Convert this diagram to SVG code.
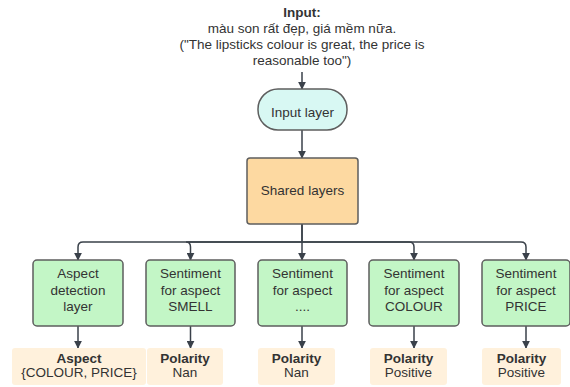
<svg xmlns="http://www.w3.org/2000/svg" width="570" height="387" viewBox="0 0 570 387">
  <defs>
    <marker id="arrow" viewBox="0 0 10 10" refX="9" refY="5" markerWidth="8" markerHeight="8" markerUnits="userSpaceOnUse" orient="auto">
      <path d="M0 0 L10 5 L0 10 Z" fill="#3a414a"/>
    </marker>
    <style>
      text { font-family: "Liberation Sans", Arial, sans-serif; font-size: 13.5px; fill: #333333; text-anchor: middle; }
      .b { font-weight: bold; }
      .conn { fill: none; stroke: #3a414a; stroke-width: 1.5; marker-end: url(#arrow); }
      .layer { stroke: #5e5e5e; stroke-width: 1.5; }
      .green { fill: #c3f6c6; }
      .out { fill: #fff1dc; }
    </style>
  </defs>

  <!-- input sentence -->
  <g id="input-text">
    <text class="b" x="302" y="17">Input:</text>
    <text x="302" y="33">màu son rất đẹp, giá mềm nữa.</text>
    <text x="302" y="49">("The lipsticks colour is great, the price is</text>
    <text x="302" y="65">reasonable too")</text>
  </g>

  <!-- connectors -->
  <g id="connectors">
    <path class="conn" d="M302 72 V89"/>
    <path class="conn" d="M302 130 V158"/>
    <path class="conn" d="M302 224 V242 H83 Q78 242 78 247 V260"/>
    <path class="conn" d="M302 242 H186 Q190.5 242 190.5 247 V260"/>
    <path class="conn" d="M302 224 V260"/>
    <path class="conn" d="M302 242 H409 Q414 242 414 247 V260"/>
    <path class="conn" d="M302 242 H521 Q526 242 526 247 V260"/>
    <path class="conn" d="M78 326 V348"/>
    <path class="conn" d="M190.5 326 V348"/>
    <path class="conn" d="M302 326 V348"/>
    <path class="conn" d="M414 326 V348"/>
    <path class="conn" d="M526 326 V348"/>
  </g>

  <g id="input-layer">
    <rect class="layer" x="258" y="89" width="89" height="41" rx="20" fill="#d8f8f3"/>
    <text x="302.5" y="117">Input layer</text>
  </g>

  <g id="shared-layers">
    <rect class="layer" x="247" y="158" width="111" height="66" rx="3" fill="#fdd9a1"/>
    <text x="302.5" y="195">Shared layers</text>
  </g>

  <g id="aspect-detection">
    <rect class="layer green" x="33" y="260" width="90" height="66" rx="4"/>
    <text x="78" y="278">Aspect</text>
    <text x="78" y="295">detection</text>
    <text x="78" y="311">layer</text>
  </g>

  <g id="sentiment-smell">
    <rect class="layer green" x="146" y="260" width="89" height="66" rx="4"/>
    <text x="190.5" y="278">Sentiment</text>
    <text x="190.5" y="295">for aspect</text>
    <text x="190.5" y="311">SMELL</text>
  </g>

  <g id="sentiment-other">
    <rect class="layer green" x="258" y="260" width="89" height="66" rx="4"/>
    <text x="302.5" y="278">Sentiment</text>
    <text x="302.5" y="295">for aspect</text>
    <text x="302.5" y="311">....</text>
  </g>

  <g id="sentiment-colour">
    <rect class="layer green" x="369" y="260" width="90" height="66" rx="4"/>
    <text x="414" y="278">Sentiment</text>
    <text x="414" y="295">for aspect</text>
    <text x="414" y="311">COLOUR</text>
  </g>

  <g id="sentiment-price">
    <rect class="layer green" x="482" y="260" width="88" height="66" rx="4"/>
    <text x="526" y="278">Sentiment</text>
    <text x="526" y="295">for aspect</text>
    <text x="526" y="311">PRICE</text>
  </g>

  <g id="out-aspect">
    <rect class="out" x="12" y="348" width="134" height="37" rx="3"/>
    <text class="b" x="79" y="363">Aspect</text>
    <text x="79" y="377">{COLOUR, PRICE}</text>
  </g>

  <g id="out-smell">
    <rect class="out" x="147" y="348" width="76" height="37" rx="3"/>
    <text class="b" x="185" y="363">Polarity</text>
    <text x="185" y="377">Nan</text>
  </g>

  <g id="out-other">
    <rect class="out" x="258" y="348" width="77" height="37" rx="3"/>
    <text class="b" x="296.5" y="363">Polarity</text>
    <text x="296.5" y="377">Nan</text>
  </g>

  <g id="out-colour">
    <rect class="out" x="370" y="348" width="77" height="37" rx="3"/>
    <text class="b" x="408.5" y="363">Polarity</text>
    <text x="408.5" y="377">Positive</text>
  </g>

  <g id="out-price">
    <rect class="out" x="482" y="348" width="79" height="37" rx="3"/>
    <text class="b" x="521.5" y="363">Polarity</text>
    <text x="521.5" y="377">Positive</text>
  </g>
</svg>
